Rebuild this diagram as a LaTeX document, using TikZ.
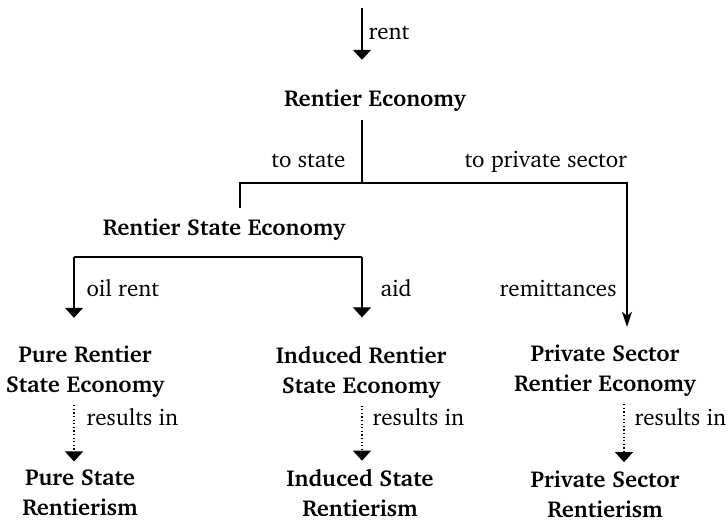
\documentclass[tikz,border=0pt]{standalone}
\usepackage[T1]{fontenc}
\renewcommand{\rmdefault}{bch}
\usetikzlibrary{arrows.meta}

\begin{document}
\begin{tikzpicture}[x=0.5pt, y=-0.5pt, line width=0.55pt,
	every node/.style={font=\fontsize{11.5}{15}\selectfont},
	box/.style={font=\fontsize{11.5}{15}\selectfont\bfseries, align=center, inner sep=0pt},
	lbl/.style={inner sep=0pt},
	tip/.style={-{Triangle[width=9pt,length=5pt]}},
	open/.style={-{Stealth[width=5pt,length=7.5pt,inset=2pt]}},
	dots/.style={dash pattern=on 0.6pt off 1.2pt}]
	\useasboundingbox (0,0) rectangle (727,523);

	%economies
	\node[box] (econ) at (375,101) {Rentier Economy};
	\node[box] (state) at (224,230) {Rentier State Economy};
	\node[box] (pure) at (85,372) {Pure Rentier\\State Economy};
	\node[box] (induced) at (361,372) {Induced Rentier\\State Economy};
	\node[box] (private) at (605,371) {Private Sector\\Rentier Economy};

	%rentierism
	\node[box] (pureR) at (80,493) {Pure State\\Rentierism};
	\node[box] (inducedR) at (360,493) {Induced State\\Rentierism};
	\node[box] (privateR) at (605,494) {Private Sector\\Rentierism};

	%junctions
	\coordinate (src) at (362,8);
	\coordinate (fork) at (362,183);
	\coordinate (bl) at (74,257);
	\coordinate (br) at (362,257);
	\coordinate (pd) at (624,0);

	%rent flows
	\draw[tip, shorten >=15pt] (src) -- (src |- econ.north);
	\draw[shorten <=4pt, shorten >=5.5pt] (fork |- econ.south) -- (fork) -| ([xshift=8pt]state.north);
	\draw[open, shorten >=9pt] (fork) -| ([xshift=11pt]private.north);
	\draw (bl) -- (br);
	\draw[tip, shorten >=14pt] (bl) -- (bl |- pure.north);
	\draw[tip, shorten >=14pt] (br) -- (br |- induced.north);

	%results
	\draw[dots, tip, shorten <=3.5pt, shorten >=4pt] (bl |- pure.south) -- (bl |- pureR.north);
	\draw[dots, tip, shorten <=3.5pt, shorten >=4pt] (br |- induced.south) -- (br |- inducedR.north);
	\draw[dots, tip, shorten <=3.5pt, shorten >=4pt] (pd |- private.south) -- (pd |- privateR.north);

	%labels
	\node[lbl, anchor=base west] (rentlbl) at (368,40) {rent};
	\node[lbl, anchor=base east] (tostate) at (346,168) {to state};
	\node[lbl, anchor=base west] (toprivate) at (464,168) {to private sector};
	\node[lbl, anchor=base west] (oil) at (86,297) {oil rent};
	\node[lbl, anchor=base west] (aidlbl) at (380,297) {aid};
	\node[lbl, anchor=base east] (remit) at (617,297) {remittances};
	\node[lbl, anchor=base west] (res1) at (86,425) {results in};
	\node[lbl, anchor=base west] (res2) at (372,425) {results in};
	\node[lbl, anchor=base west] (res3) at (634,425) {results in};
\end{tikzpicture}
\end{document}
